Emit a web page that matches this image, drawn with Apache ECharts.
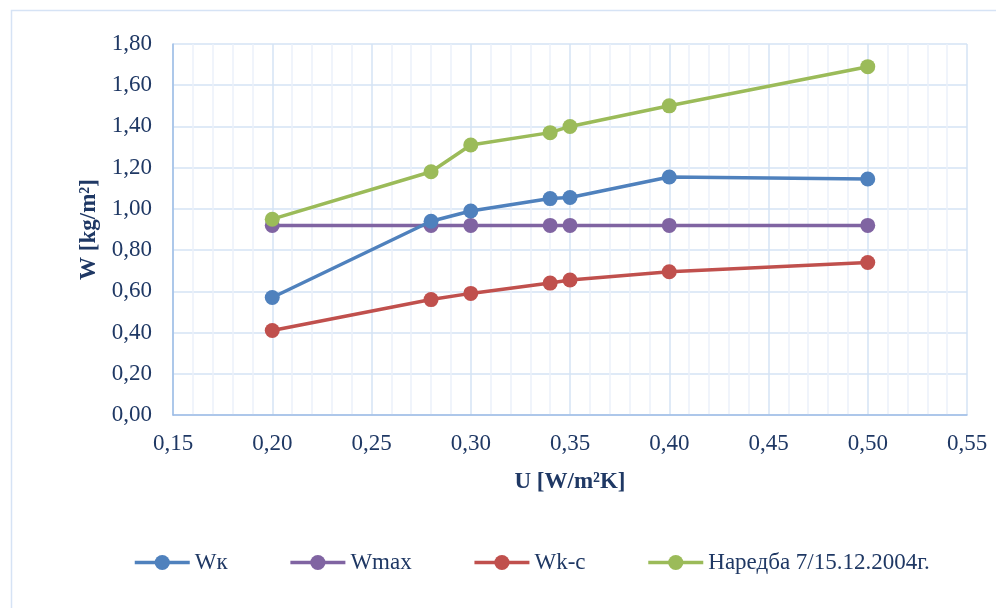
<!DOCTYPE html>
<html><head><meta charset="utf-8">
<script src="https://cdn.jsdelivr.net/npm/echarts@6/dist/echarts.min.js"></script>
<style>html,body{margin:0;padding:0;background:#fff}#c{width:996px;height:608px}</style>
</head><body><div id="c"></div>
<script>
const xValues = [0.20, 0.28, 0.30, 0.34, 0.35, 0.40, 0.50];
const wk = [0.57, 0.94, 0.99, 1.05, 1.055, 1.155, 1.145];
const wmax = [0.92, 0.92, 0.92, 0.92, 0.92, 0.92, 0.92];
const wkc = [0.41, 0.56, 0.59, 0.64, 0.655, 0.695, 0.74];
const nar = [0.95, 1.18, 1.31, 1.37, 1.40, 1.50, 1.69];
const seriesNames = ['Wк', 'Wmax', 'Wk-c', 'Наредба 7/15.12.2004г.'];
const colors = ['#4F81BD', '#8064A2', '#C0504D', '#9BBB59'];
const allData = [wk, wmax, wkc, nar];

const txt = '#1F3864';
const font = 'Liberation Serif';
const fs = 23;
const chart = echarts.init(document.getElementById('c'), null, {renderer: 'canvas'});
chart.setOption({
  animation: false,
  color: colors,
  graphic: [{type: 'rect', shape: {x: 11.5, y: 10.5, width: 1000, height: 700}, style: {fill: 'none', stroke: '#D6E3F5', lineWidth: 1.5}}],
  grid: {left: 173, right: 29, top: 44, bottom: 193},
  legend: {
    top: 546, left: 128, itemWidth: 55, itemHeight: 19, itemGap: 61,
    lineStyle: {width: 3.5},
    textStyle: {fontFamily: font, fontSize: fs, color: txt},
    data: seriesNames
  },
  xAxis: {
    type: 'value', min: 0.15, max: 0.55, interval: 0.05,
    name: 'U [W/m²K]', nameLocation: 'middle', nameGap: 56,
    nameTextStyle: {fontFamily: font, fontSize: fs, fontWeight: 'bold', color: txt},
    axisLine: {show: true, lineStyle: {color: '#9DBCE6', width: 1.5}},
    axisTick: {show: false},
    axisLabel: {fontFamily: font, fontSize: fs, color: txt, margin: 17, formatter: v => v.toFixed(2).replace('.', ',')},
    splitLine: {show: true, lineStyle: {color: '#D5E3F4', width: 1.5}},
    minorTick: {show: false, splitNumber: 5},
    minorSplitLine: {show: true, lineStyle: {color: '#EBF1FA', width: 1.5}}
  },
  yAxis: {
    type: 'value', min: 0, max: 1.8, interval: 0.2,
    name: 'W [kg/m²]', nameLocation: 'middle', nameGap: 71,
    nameTextStyle: {fontFamily: font, fontSize: fs, fontWeight: 'bold', color: txt},
    axisLine: {show: true, lineStyle: {color: '#9DBCE6', width: 1.5}},
    axisTick: {show: false},
    axisLabel: {fontFamily: font, fontSize: fs, color: txt, margin: 21, formatter: v => v.toFixed(2).replace('.', ',')},
    splitLine: {show: true, lineStyle: {color: '#D5E3F4', width: 1.5}}
  },
  series: allData.map((d, i) => ({
    name: seriesNames[i], type: 'line',
    data: xValues.map((x, j) => [x, d[j]]),
    symbol: 'circle', symbolSize: 15,
    lineStyle: {width: 3.5, color: colors[i]},
    itemStyle: {color: colors[i]},
    z: i === 1 ? 2 : 3
  }))
});
</script></body></html>
